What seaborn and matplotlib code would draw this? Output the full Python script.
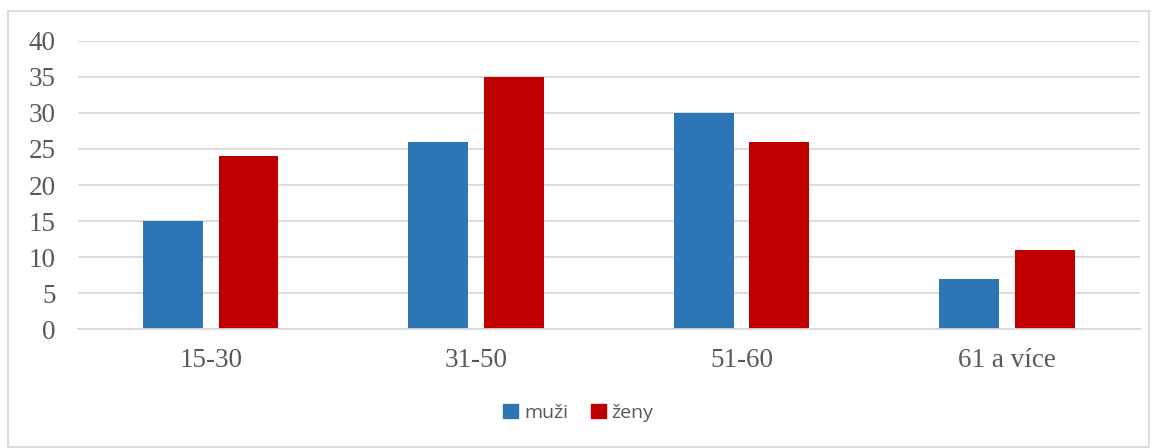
import matplotlib
matplotlib.use("Agg")
import matplotlib.pyplot as plt
import pandas as pd
import seaborn as sns
from matplotlib.patches import Rectangle

categories = ["15-30", "31-50", "51-60", "61 a více"]
muzi = [15, 26, 30, 7]
zeny = [24, 35, 26, 11]
series = ["muži", "ženy"]
colors = ["#2E75B6", "#C00000"]

df = pd.DataFrame({
    "vek": categories * 2,
    "pohlavi": [series[0]] * len(categories) + [series[1]] * len(categories),
    "pocet": muzi + zeny,
})

sns.set_theme(style="white")
text_color = "#595959"
grid_color = "#D9D9D9"

fig = plt.figure(figsize=(11.57, 4.48), dpi=100)
ax = fig.add_axes([0.0674, 0.2656, 0.9176, 0.6429])

sns.barplot(data=df, x="vek", y="pocet", hue="pohlavi", palette=colors,
            width=0.57, gap=0.21, ax=ax, legend=False, saturation=1,
            linewidth=0)

ax.set_ylim(0, 40)
ax.set_yticks(range(0, 41, 5))
ax.set_xlim(-0.5, 3.5)
ax.yaxis.grid(True, color=grid_color, linewidth=1.3)
ax.set_axisbelow(True)
for s in ["top", "right", "left"]:
    ax.spines[s].set_visible(False)
ax.spines["bottom"].set_color(grid_color)
ax.spines["bottom"].set_linewidth(1.3)
ax.set_xlabel("")
ax.set_ylabel("")
ax.tick_params(axis="both", length=0, colors=text_color, labelsize=19.5)
ax.tick_params(axis="y", pad=16)
ax.tick_params(axis="x", pad=14)
for lab in ax.get_xticklabels() + ax.get_yticklabels():
    lab.set_fontfamily("Liberation Serif")
    lab.set_color(text_color)

handles = [Rectangle((0, 0), 1, 1, color=c) for c in colors]
leg = fig.legend(handles, series, loc="center", bbox_to_anchor=(0.5, 0.078),
                 ncol=2, frameon=False, handlelength=0.75, handleheight=0.75,
                 handletextpad=0.3, columnspacing=1.2,
                 prop={"family": "Open Sans", "size": 14})
for t in leg.get_texts():
    t.set_color(text_color)

fig.patches.append(Rectangle((8 / 1157, 1 - 447 / 448), 1 - 16 / 1157, 1 - 12 / 448,
                             transform=fig.transFigure, fill=False,
                             edgecolor=grid_color, linewidth=1.3))

fig.savefig("out.png", dpi=100)
